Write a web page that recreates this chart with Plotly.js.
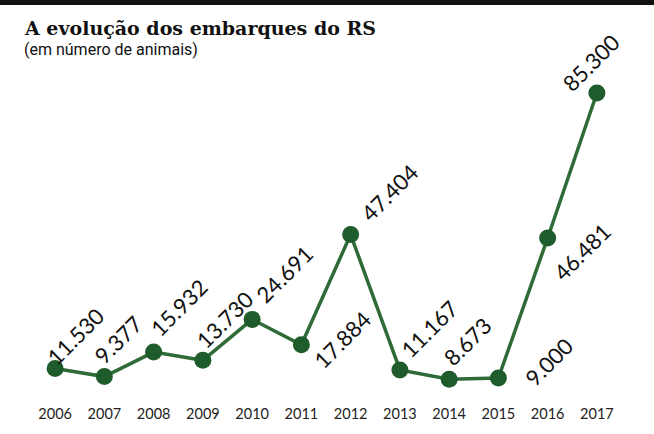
<!DOCTYPE html>
<html>
<head>
<meta charset="utf-8">
<script src="https://cdn.plot.ly/plotly-3.0.1.min.js"></script>
<style>
  body { margin: 0; background: #fff; }
  #graph { width: 654px; height: 434px; }
</style>
</head>
<body>
<div id="graph"></div>
<script>
// embarques de animais vivos no RS
var years = [2006, 2007, 2008, 2009, 2010, 2011, 2012, 2013, 2014, 2015, 2016, 2017];
var animals = [11530, 9377, 15932, 13730, 24691, 17884, 47404, 11167, 8673, 9000, 46481, 85300];
var labels = ["11.530", "9.377", "15.932", "13.730", "24.691", "17.884",
              "47.404", "11.167", "8.673", "9.000", "46.481", "85.300"];

// where each rotated label sits relative to its point (px)
var labelDx = [20, 14, 25, 22, 32, 41, 39, 30, 18, 51, 35, -6];
var labelDy = [32, 37, 45, 41, 45, 5, 42, 41, 38, 16, -14, 31];

function drawChart() {
    var trace, annotations, layout, i;

    trace = {
        x: years,
        y: animals,
        type: 'scatter',
        mode: 'lines+markers',
        line: { color: '#2e6b37', width: 3.5 },
        marker: { color: '#1f5c2b', size: 17 },
        cliponaxis: false,
        hoverinfo: 'none'
    };

    annotations = [];
    for (i = 0; i < years.length; i++) {
        annotations.push({
            x: years[i],
            y: animals[i],
            text: labels[i],
            showarrow: false,
            textangle: -45,
            xanchor: 'center',
            yanchor: 'middle',
            xshift: labelDx[i],
            yshift: labelDy[i],
            font: { family: 'Lato, sans-serif', size: 22, color: '#111' }
        });
    }

    annotations.push({
        xref: 'paper', yref: 'paper',
        x: -8 / 594, y: 1.1625,
        xanchor: 'left', yanchor: 'middle',
        showarrow: false,
        text: '<b>A evolução dos embarques do RS</b>',
        font: { family: 'DejaVu Serif, serif', size: 19, color: '#111' }
    });
    annotations.push({
        xref: 'paper', yref: 'paper',
        x: -8 / 594, y: 1.094,
        xanchor: 'left', yanchor: 'middle',
        showarrow: false,
        text: '(em número de animais)',
        font: { family: 'Roboto, sans-serif', size: 16, color: '#111' }
    });

    layout = {
        width: 654,
        height: 434,
        margin: { l: 30, r: 30, t: 80, b: 34 },
        paper_bgcolor: '#fff',
        plot_bgcolor: '#fff',
        showlegend: false,
        xaxis: {
            range: [2005.49, 2017.55],
            tickvals: years,
            ticks: '',
            ticklabelstandoff: 3,
            showgrid: false,
            zeroline: false,
            showline: false,
            tickfont: { family: 'Lato, sans-serif', size: 14.5, color: '#222' }
        },
        yaxis: {
            range: [3106, 88782],
            visible: false,
            showgrid: false,
            zeroline: false
        },
        annotations: annotations,
        shapes: [{
            type: 'rect',
            xref: 'paper', yref: 'paper',
            x0: -30 / 594, x1: 1 + 30 / 594,
            y0: 1.234, y1: 1.26,
            fillcolor: '#111',
            line: { width: 0 }
        }]
    };

    Plotly.newPlot('graph', [trace], layout, { displayModeBar: false, staticPlot: true });
}

drawChart();
</script>
</body>
</html>
